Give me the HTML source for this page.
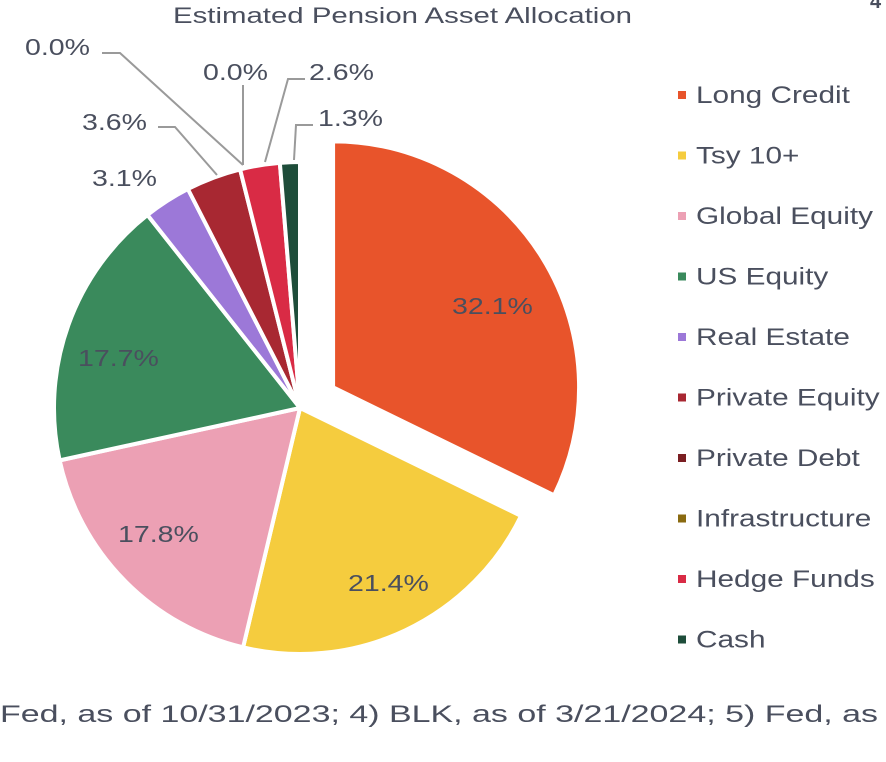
<!DOCTYPE html>
<html><head><meta charset="utf-8"><style>
html,body{margin:0;padding:0;background:#fff;width:886px;height:762px;overflow:hidden}
svg{display:block}
text{font-family:"Liberation Sans",sans-serif;fill:#4a4f5e}
</style></head><body>
<svg id="s" width="886" height="762" viewBox="0 0 886 762">
<text x="173" y="23" font-size="22" textLength="459" lengthAdjust="spacingAndGlyphs" fill="#5f6575">Estimated Pension Asset Allocation</text>
<text x="870" y="8" font-size="20" font-weight="bold" fill="#000">4</text>
<g id="pie"></g>
<g stroke="#9a9a9a" stroke-width="2" fill="none">
<polyline points="102,53 120,53 243,165"/>
<polyline points="243,85 243,165"/>
<polyline points="305,79 288,79 265,162"/>
<polyline points="313,125 296,125 294,160"/>
<polyline points="158,127 175,127 217,175"/>
</g>
<g font-size="23">
<text class="w" x="25" y="55">0.0%</text>
<text class="w" x="203" y="80">0.0%</text>
<text class="w" x="309" y="80">2.6%</text>
<text class="w" x="318" y="126">1.3%</text>
<text class="w" x="82" y="130">3.6%</text>
<text class="w" x="92" y="186">3.1%</text>
<text class="w" x="452" y="314">32.1%</text>
<text class="w" x="348" y="591">21.4%</text>
<text class="w" x="118" y="542">17.8%</text>
<text class="w" x="78" y="366">17.7%</text>
</g>
<g id="leg" font-size="24"></g>
<text x="0" y="722" font-size="24" textLength="878" lengthAdjust="spacingAndGlyphs" fill="#3f4352">Fed, as of 10/31/2023; 4) BLK, as of 3/21/2024; 5) Fed, as</text>
</svg>
<script>
var data=[[32.1,"#E8542B","Long Credit"],[21.4,"#F5CC3E","Tsy 10+"],[17.8,"#ECA0B4","Global Equity"],[17.7,"#3A8A5C","US Equity"],[3.1,"#9C78D8","Real Estate"],[3.6,"#A82832","Private Equity"],[0,"#7A1E22","Private Debt"],[0,"#8A6A10","Infrastructure"],[2.6,"#D92B45","Hedge Funds"],[1.3,"#1E4D3A","Cash"]];
var tot=0;data.forEach(function(d){tot+=d[0]});
var cx=300,cy=408,r=246,a=0,g=document.getElementById('pie'),h='';
data.forEach(function(d,i){
 if(!d[0])return;
 var s=d[0]/tot*2*Math.PI,a0=a,a1=a+s;a=a1;
 var ox=0,oy=0;if(i==0){var m=(a0+a1)/2;ox=39*Math.sin(m);oy=-39*Math.cos(m);}
 var x0=cx+ox+r*Math.sin(a0),y0=cy+oy-r*Math.cos(a0),x1=cx+ox+r*Math.sin(a1),y1=cy+oy-r*Math.cos(a1);
 h+='<path d="M'+(cx+ox)+','+(cy+oy)+' L'+x0+','+y0+' A'+r+','+r+' 0 '+(s>Math.PI?1:0)+' 1 '+x1+','+y1+' Z" fill="'+d[1]+'" stroke="#fff" stroke-width="4" stroke-linejoin="round"/>';
});
g.innerHTML=h;
var l='';data.forEach(function(d,i){var y=95+i*60.5;l+='<rect x="678" y="'+(y-4)+'" width="8" height="8" fill="'+d[1]+'"/><text class="w" x="696" y="'+(y+8)+'">'+d[2]+'</text>';});
document.getElementById('leg').innerHTML=l;
var ts=document.querySelectorAll('text.w');
for(var i=0;i<ts.length;i++){var t=ts[i];var w=t.getComputedTextLength();t.setAttribute('textLength',(w*1.24).toFixed(1));t.setAttribute('lengthAdjust','spacingAndGlyphs');}
</script>
</body></html>
